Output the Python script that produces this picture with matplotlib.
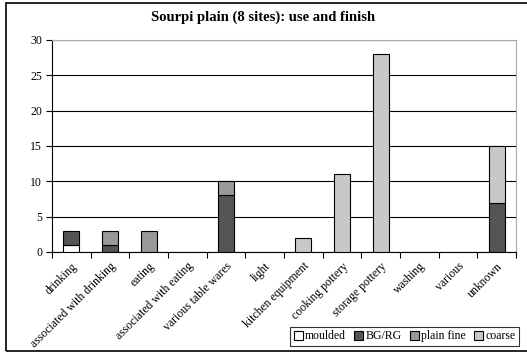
import matplotlib.pyplot as plt
import numpy as np
from matplotlib.patches import Rectangle, Patch

plt.rcParams['font.family'] = 'Liberation Serif'

categories = ['drinking', 'associated with drinking', 'eating', 'associated with eating',
              'various table wares', 'light', 'kitchen equipment', 'cooking pottery',
              'storage pottery', 'washing', 'various', 'unknown']
moulded = [1, 0, 0, 0, 0, 0, 0, 0, 0, 0, 0, 0]
bg_rg = [2, 1, 0, 0, 8, 0, 0, 0, 0, 0, 0, 7]
plain_fine = [0, 2, 3, 0, 2, 0, 0, 0, 0, 0, 0, 0]
coarse = [0, 0, 0, 0, 0, 0, 2, 11, 28, 0, 0, 8]

series = [('moulded', moulded, '#ffffff'),
          ('BG/RG', bg_rg, '#555555'),
          ('plain fine', plain_fine, '#999999'),
          ('coarse', coarse, '#c8c8c8')]

fig = plt.figure(figsize=(5.27, 3.54), dpi=100)
ax = fig.add_axes([52 / 527, 1 - 252 / 354, 464 / 527, 212 / 354])

# outer frame round the whole chart
fig.patches.append(Rectangle((6 / 527, 3 / 354), 1.0, 348 / 354, transform=fig.transFigure,
                             fill=False, edgecolor='black', linewidth=1.2, zorder=0))

x = np.arange(len(categories))
bottom = np.zeros(len(categories))
handles = []
for name, vals, col in series:
    vals = np.array(vals, dtype=float)
    bars = ax.bar(x, vals, width=0.42, bottom=bottom, color=col, edgecolor='black',
                  linewidth=0.8, zorder=3)
    # empty segments would show up as a flat line
    for b, v in zip(bars, vals):
        if v == 0:
            b.set_visible(False)
    bottom += vals
    handles.append(Patch(facecolor=col, edgecolor='black', linewidth=0.8, label=name))

ax.set_xlim(-0.5, len(categories) - 0.5)
ax.set_ylim(0, 30)
ax.set_yticks(range(0, 31, 5))
ax.yaxis.grid(True, color='black', linewidth=0.8, zorder=0)
ax.set_axisbelow(True)

ax.set_xticks(np.arange(len(categories) + 1) - 0.5, minor=False)
ax.set_xticklabels([])
ax.set_xticks(x, minor=True)
ax.set_xticklabels(categories, minor=True, rotation=45, ha='right', rotation_mode='anchor',
                   fontsize=8.5)
ax.tick_params(axis='x', which='minor', length=0, pad=6)
ax.tick_params(axis='x', which='major', length=4, direction='out', width=0.8)
ax.tick_params(axis='y', length=4, width=0.8, labelsize=8.5, pad=3)

for side in ['top', 'right']:
    ax.spines[side].set_color('#aaaaaa')
for side in ['left', 'bottom']:
    ax.spines[side].set_color('black')
    ax.spines[side].set_linewidth(0.8)

fig.suptitle('Sourpi plain (8 sites): use and finish', fontweight='bold', fontsize=10.5,
             y=1 - 17 / 354, va='center')

leg = fig.legend(handles=handles, loc='lower right', bbox_to_anchor=(519 / 527, 8 / 354),
                 ncol=4, fontsize=8.5, frameon=True, fancybox=False, edgecolor='black',
                 handlelength=0.75, handleheight=0.75, handletextpad=0.2,
                 columnspacing=0.7, borderpad=0.3, borderaxespad=0)
leg.get_frame().set_linewidth(0.8)

fig.savefig('out.png', dpi=100)
